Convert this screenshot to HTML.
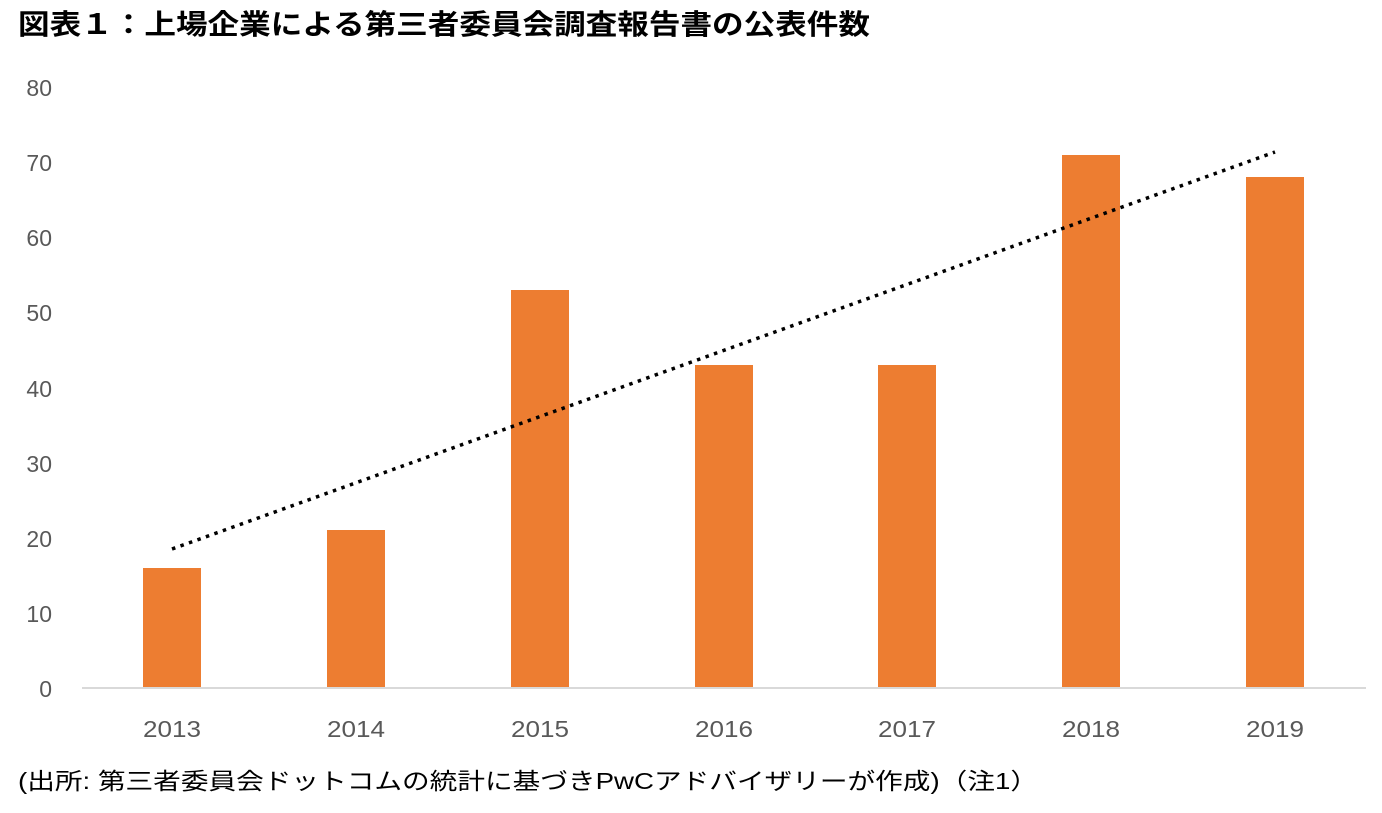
<!DOCTYPE html>
<html><head><meta charset="utf-8"><style>
body{margin:0;background:#fff;width:1382px;height:808px;overflow:hidden}
svg text{font-family:"Liberation Sans","Noto Sans CJK JP",sans-serif}
</style></head><body>
<svg width="1382" height="808" xmlns="http://www.w3.org/2000/svg">
<text x="18" y="34" font-size="28" font-weight="bold" fill="#000" textLength="852" lengthAdjust="spacingAndGlyphs">図表１：上場企業による第三者委員会調査報告書の公表件数</text>
<g font-size="23" fill="#595959" text-anchor="end">
<text x="52" y="697">0</text><text x="52" y="622">10</text><text x="52" y="547">20</text><text x="52" y="472">30</text><text x="52" y="397">40</text><text x="52" y="321">50</text><text x="52" y="246">60</text><text x="52" y="171">70</text><text x="52" y="96">80</text>
</g>
<g fill="#ED7D31">
<rect x="143" y="568" width="58" height="120"/>
<rect x="327" y="530" width="58" height="158"/>
<rect x="511" y="290" width="58" height="398"/>
<rect x="695" y="365" width="58" height="323"/>
<rect x="878" y="365" width="58" height="323"/>
<rect x="1062" y="155" width="58" height="533"/>
<rect x="1246" y="177" width="58" height="511"/>
</g>
<line x1="82" y1="688" x2="1366" y2="688" stroke="#d9d9d9" stroke-width="2"/>
<line x1="172" y1="549" x2="1275" y2="152" stroke="#000" stroke-width="3.5" stroke-dasharray="3.5 5.5"/>
<g font-size="23" fill="#595959">
<text x="143" y="737" textLength="58" lengthAdjust="spacingAndGlyphs">2013</text>
<text x="327" y="737" textLength="58" lengthAdjust="spacingAndGlyphs">2014</text>
<text x="511" y="737" textLength="58" lengthAdjust="spacingAndGlyphs">2015</text>
<text x="695" y="737" textLength="58" lengthAdjust="spacingAndGlyphs">2016</text>
<text x="878" y="737" textLength="58" lengthAdjust="spacingAndGlyphs">2017</text>
<text x="1062" y="737" textLength="58" lengthAdjust="spacingAndGlyphs">2018</text>
<text x="1246" y="737" textLength="58" lengthAdjust="spacingAndGlyphs">2019</text>
</g>
<text x="18" y="789" font-size="23" fill="#000" textLength="1020" lengthAdjust="spacingAndGlyphs">(出所: 第三者委員会ドットコムの統計に基づきPwCアドバイザリーが作成)（注1）</text>
</svg>
</body></html>
